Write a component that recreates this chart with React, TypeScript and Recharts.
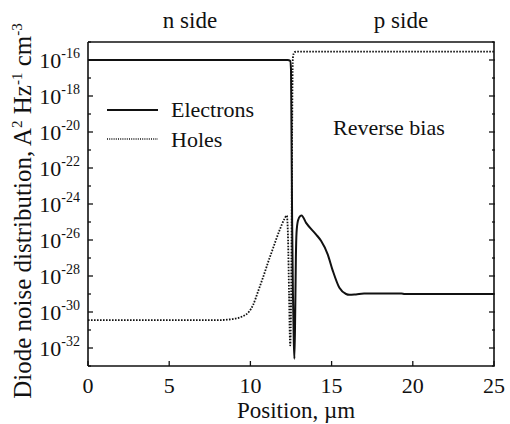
import { LineChart, Line, XAxis, YAxis } from "recharts";

// position along the diode, µm
const electronPos = [
  0, 12.3, 12.45, 12.5, 12.53, 12.57, 12.62, 12.67, 12.71, 12.76, 12.8, 12.84, 12.93, 13.08, 13.15,
  13.43, 14.05, 14.35, 14.76, 15.07, 15.48, 15.89, 16.1, 16.5, 17.0, 19.3, 19.5, 25,
];
// noise distribution, A² Hz⁻¹ cm⁻³
const electronNoise = [
  1e-16, 1e-16, 9e-17, 3e-17, 1e-20, 1e-25, 1e-29, 3e-32, 2.5e-33, 1e-30, 1e-27, 2.5e-26, 1.2e-25, 2.2e-25, 2.3e-25,
  9e-26, 2e-26, 9e-27, 1.6e-27, 2e-28, 2.2e-29, 1e-29, 9e-30, 9.5e-30, 1.05e-29, 1.05e-29, 1e-29, 1e-29,
];

const holePos = [
  0, 8.0, 8.5, 9.0, 9.5, 9.9, 10.16, 10.46, 10.77, 11.18, 11.38, 11.79, 12.1, 12.24, 12.32, 12.38, 12.45,
  12.52, 12.57, 12.61, 12.66, 12.75, 12.85, 25,
];
const holeNoise = [
  3.5e-31, 3.5e-31, 3.7e-31, 4.2e-31, 5.6e-31, 1e-30, 2.4e-30, 1.3e-29, 8e-29, 1e-27, 3.2e-27, 3.4e-26, 1.5e-25, 2.3e-25, 1e-26, 1e-29, 1.4e-32,
  1e-28, 1e-20, 1e-16, 2.2e-16, 2.8e-16, 2.9e-16, 2.9e-16,
];

const xTicks = [0, 5, 10, 15, 20, 25];
const yTicks = [
  1e-33, 1e-32, 1e-31, 1e-30, 1e-29, 1e-28, 1e-27, 1e-26, 1e-25, 1e-24, 1e-23, 1e-22, 1e-21, 1e-20,
  1e-19, 1e-18, 1e-17, 1e-16, 1e-15,
];
const seriesNames = ["Electrons", "Holes"];
const sideLabels = ["n side", "p side"];
const biasLabel = "Reverse bias";

const electrons = electronPos.map((x, i) => ({ x, y: electronNoise[i] }));
const holes = holePos.map((x, i) => ({ x, y: holeNoise[i] }));

const FONT = "'Liberation Serif', 'Times New Roman', serif";
const INK = "#111";

// frame of the plot area (follows from chart size, margins and axis sizes)
const LEFT = 88;
const RIGHT = 495;
const TOP = 42;
const BOTTOM = 366;

const leftTick = (p: any) => {
  const exp = Math.round(Math.log10(p.payload.value));
  const major = exp % 2 === 0;
  return (
    <g>
      <line x1={LEFT} x2={LEFT + (major ? 5 : 3)} y1={p.y} y2={p.y} stroke={INK} strokeWidth={1.3} />
      {major && (
        <text x={LEFT - 8} y={p.y + 8} textAnchor="end" fontFamily={FONT} fontSize={22} fill={INK}>
          10
          <tspan dy={-10} fontSize={14}>
            {exp}
          </tspan>
        </text>
      )}
    </g>
  );
};

const rightTick = (p: any) => {
  const exp = Math.round(Math.log10(p.payload.value));
  const major = exp % 2 === 0;
  return <line x1={RIGHT} x2={RIGHT - (major ? 6 : 3)} y1={p.y} y2={p.y} stroke={INK} strokeWidth={1.3} />;
};

const bottomTick = (p: any) => (
  <g>
    <line x1={p.x} x2={p.x} y1={BOTTOM} y2={BOTTOM - 5} stroke={INK} strokeWidth={1.3} />
    <text x={p.x} y={BOTTOM + 27} textAnchor="middle" fontFamily={FONT} fontSize={22} fill={INK}>
      {p.payload.value}
    </text>
  </g>
);

const topTick = (p: any) => <line x1={p.x} x2={p.x} y1={TOP} y2={TOP + 5} stroke={INK} strokeWidth={1.3} />;

export default function App() {
  return (
    <div style={{ position: "absolute", left: 0, top: 0, background: "#fff" }}>
      <LineChart width={510} height={424} margin={{ top: 12, right: 15, bottom: 0, left: 0 }}>
        <XAxis
          dataKey="x"
          type="number"
          domain={[0, 25]}
          ticks={xTicks}
          height={58}
          interval={0}
          tickLine={false}
          tick={bottomTick}
          axisLine={{ stroke: INK, strokeWidth: 1.6 }}
          allowDataOverflow
        />
        <XAxis
          xAxisId="top"
          orientation="top"
          type="number"
          domain={[0, 25]}
          ticks={xTicks}
          height={30}
          interval={0}
          tickLine={false}
          tick={topTick}
          axisLine={{ stroke: INK, strokeWidth: 1.6 }}
        />
        <YAxis
          scale="log"
          type="number"
          domain={[1e-33, 1e-15]}
          ticks={yTicks}
          width={88}
          interval={0}
          tickLine={false}
          tick={leftTick}
          axisLine={{ stroke: INK, strokeWidth: 1.6 }}
          allowDataOverflow
        />
        <YAxis
          yAxisId="right"
          orientation="right"
          scale="log"
          type="number"
          domain={[1e-33, 1e-15]}
          ticks={yTicks}
          width={1}
          interval={0}
          tickLine={false}
          tick={rightTick}
          axisLine={{ stroke: INK, strokeWidth: 1.6 }}
          allowDataOverflow
        />
        <Line
          data={electrons}
          dataKey="y"
          name={seriesNames[0]}
          type="monotone"
          stroke={INK}
          strokeWidth={2}
          dot={false}
          isAnimationActive={false}
        />
        <Line
          data={holes}
          dataKey="y"
          name={seriesNames[1]}
          type="monotone"
          stroke={INK}
          strokeWidth={1.8}
          strokeDasharray="1.6 1.4"
          dot={false}
          isAnimationActive={false}
        />

        {/* side labels above the frame */}
        <text x={190} y={28} textAnchor="middle" fontFamily={FONT} fontSize={23} fill={INK}>
          {sideLabels[0]}
        </text>
        <text x={401} y={28} textAnchor="middle" fontFamily={FONT} fontSize={23} fill={INK}>
          {sideLabels[1]}
        </text>
        <text x={333} y={135} fontFamily={FONT} fontSize={22} fill={INK}>
          {biasLabel}
        </text>

        {/* legend */}
        <line x1={107} x2={158} y1={110} y2={110} stroke={INK} strokeWidth={2} />
        <text x={171} y={117} fontFamily={FONT} fontSize={22} fill={INK}>
          {seriesNames[0]}
        </text>
        <line x1={107} x2={158} y1={139} y2={139} stroke={INK} strokeWidth={1.3} strokeDasharray="1 1.2" />
        <text x={171} y={147} fontFamily={FONT} fontSize={22} fill={INK}>
          {seriesNames[1]}
        </text>

        {/* axis titles */}
        <text x={296} y={418} textAnchor="middle" fontFamily={FONT} fontSize={23} fill={INK}>
          Position, µm
        </text>
        <text
          transform="translate(31, 211) rotate(-90)"
          textAnchor="middle"
          fontFamily={FONT}
          fontSize={25}
          fill={INK}
        >
          Diode noise distribution, A
          <tspan dy={-9} fontSize={15}>2</tspan>
          <tspan dy={9}> Hz</tspan>
          <tspan dy={-9} fontSize={15}>-1</tspan>
          <tspan dy={9}> cm</tspan>
          <tspan dy={-9} fontSize={15}>-3</tspan>
        </text>
      </LineChart>
    </div>
  );
}
